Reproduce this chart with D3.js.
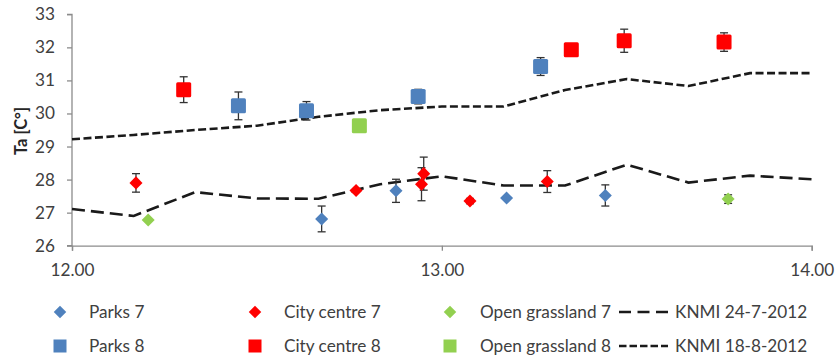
<!DOCTYPE html>
<html><head><meta charset="utf-8">
<script src="https://cdn.jsdelivr.net/npm/d3@7/dist/d3.min.js"></script>
<style>body{margin:0;background:#fff;} svg{display:block;font-family:Lato,"Open Sans",sans-serif;}</style>
</head><body><svg id="c" width="837" height="361"></svg>
<script>
// x values in decimal hours: [time, temperature, error]
const parks7 = [[12.675,26.81,0.39],[12.876,27.66,0.35],[13.175,27.44,0.05],[13.442,27.52,0.32]];
const city7 = [[12.173,27.90,0.28],[12.768,27.67,0.05],[12.951,28.18,0.50],[12.945,27.86,0.50],[13.076,27.35,0.08],[13.285,27.94,0.33]];
const grass7 = [[12.206,26.78,0.05],[13.774,27.41,0.13]];
const parks8 = [[12.45,30.23,0.42],[12.634,30.08,0.28],[12.936,30.51,0.22],[13.267,31.42,0.27]];
const city8 = [[12.302,30.72,0.39],[13.35,31.93,0.05],[13.493,32.20,0.35],[13.763,32.16,0.28]];
const grass8 = [[12.777,29.63,0.0]];
const knmiTimes = [12.0,12.1667,12.3333,12.5,12.6667,12.8333,13.0,13.1667,13.3333,13.5,13.6667,13.8333,14.0];
const knmi247 = [27.11,26.90,27.62,27.43,27.42,27.86,28.10,27.82,27.82,28.45,27.91,28.12,28.01];
const knmi188 = [29.22,29.35,29.50,29.63,29.90,30.10,30.21,30.21,30.71,31.04,30.83,31.22,31.22];
const xTicks = [12,13,14];
const yTicks = [26,27,28,29,30,31,32,33];

const svg = d3.select("#c");
const x = d3.scaleLinear().domain([12,14]).range([72,811.7]);
const y = d3.scaleLinear().domain([26,33]).range([245.7,14.3]);
const axisCol = "#8c8c8c", textCol = "#404040", fs = "17.2px";

// axes
const gy = svg.append("g").attr("transform","translate(72,0)")
  .call(d3.axisLeft(y).tickValues(yTicks).tickSize(5).tickPadding(12).tickFormat(d3.format("d")));
const gx = svg.append("g").attr("transform","translate(0,245.7)")
  .call(d3.axisBottom(x).tickValues(xTicks).tickSize(5).tickPadding(13).tickFormat(d3.format(".2f")));
[gx,gy].forEach(g=>{
  g.select(".domain").attr("stroke",axisCol).attr("stroke-width",1.3);
  g.selectAll(".tick line").attr("stroke",axisCol).attr("stroke-width",1.3);
  g.selectAll(".tick text").attr("fill",textCol).style("font-size",fs).style("font-family","Lato,'Open Sans',sans-serif");
});
gy.select(".domain").attr("d","M-5,"+y(33)+"H0V"+y(26)+"H-5");
svg.append("text").attr("transform","translate(27,131) rotate(-90)").attr("text-anchor","middle")
  .attr("fill","#262626").style("font-size","16.5px").style("font-weight","bold").text("Ta [C°]");

// lines
const line = d3.line().x(d=>x(d[0])).y(d=>y(d[1]));
svg.append("path").datum(knmiTimes.map((t,i)=>[t,knmi247[i]])).attr("d",line)
  .attr("fill","none").attr("stroke","#1a1a1a").attr("stroke-width",2.6).attr("stroke-dasharray","13,6");
svg.append("path").datum(knmiTimes.map((t,i)=>[t,knmi188[i]])).attr("d",line)
  .attr("fill","none").attr("stroke","#1a1a1a").attr("stroke-width",2.6).attr("stroke-dasharray","8,3.5");

const blue="#4f81bd", red="#ff0000", green="#92d050";
function errs(data){
  const g = svg.append("g").attr("stroke","#333").attr("stroke-width",1.3);
  data.filter(d=>d[2]>0.06).forEach(d=>{
    const cx=x(d[0]);
    g.append("line").attr("x1",cx).attr("x2",cx).attr("y1",y(d[1]-d[2])).attr("y2",y(d[1]+d[2]));
    [d[1]-d[2],d[1]+d[2]].forEach(v=>g.append("line").attr("x1",cx-4).attr("x2",cx+4).attr("y1",y(v)).attr("y2",y(v)));
  });
}
function diamonds(data,col){
  errs(data);
  svg.append("g").selectAll("path").data(data).join("path")
    .attr("d",d3.symbol(d3.symbolSquare,85))
    .attr("transform",d=>`translate(${x(d[0])},${y(d[1])}) rotate(45)`).attr("fill",col);
}
function squares(data,col){
  errs(data);
  svg.append("g").selectAll("rect").data(data).join("rect")
    .attr("x",d=>x(d[0])-7.5).attr("y",d=>y(d[1])-7.5).attr("width",15).attr("height",15)
    .attr("rx",1.5).attr("fill",col);
}
diamonds(parks7,blue); diamonds(city7,red); diamonds(grass7,green);
squares(parks8,blue); squares(city8,red); squares(grass8,green);

// legend
const lg = svg.append("g").style("font-size",fs).attr("fill",textCol);
const items = [
  {t:"Parks 7",type:"d",c:blue,mx:60,tx:89,ry:312},
  {t:"Parks 8",type:"s",c:blue,mx:60,tx:89,ry:346},
  {t:"City centre 7",type:"d",c:red,mx:255,tx:284,ry:312},
  {t:"City centre 8",type:"s",c:red,mx:255,tx:284,ry:346},
  {t:"Open grassland 7",type:"d",c:green,mx:450,tx:480,ry:312},
  {t:"Open grassland 8",type:"s",c:green,mx:450,tx:480,ry:346},
  {t:"KNMI 24-7-2012",type:"l1",mx:619,tx:675,ry:312},
  {t:"KNMI 18-8-2012",type:"l2",mx:619,tx:675,ry:346}
];
items.forEach(it=>{
  if(it.type==="d") lg.append("path").attr("d",d3.symbol(d3.symbolSquare,78)).attr("transform",`translate(${it.mx},${it.ry}) rotate(45)`).attr("fill",it.c);
  if(it.type==="s") lg.append("rect").attr("x",it.mx-6.5).attr("y",it.ry-6.5).attr("width",13).attr("height",13).attr("fill",it.c);
  if(it.type==="l1") lg.append("line").attr("x1",it.mx).attr("x2",668).attr("y1",it.ry).attr("y2",it.ry).attr("stroke","#1a1a1a").attr("stroke-width",2.6).attr("stroke-dasharray","12,6.5");
  if(it.type==="l2") lg.append("line").attr("x1",it.mx).attr("x2",668).attr("y1",it.ry).attr("y2",it.ry).attr("stroke","#1a1a1a").attr("stroke-width",2.6).attr("stroke-dasharray","7.5,3");
  lg.append("text").attr("x",it.tx).attr("y",it.ry).attr("dy","0.35em").text(it.t);
});
</script></body></html>
